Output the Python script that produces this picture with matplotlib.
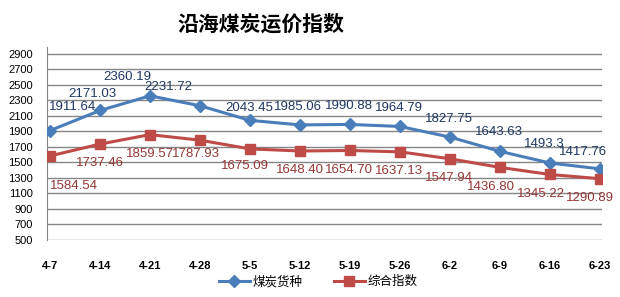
import matplotlib
matplotlib.use("Agg")
import matplotlib.pyplot as plt

plt.rcParams['font.family'] = ['Liberation Sans', 'Noto Sans CJK SC', 'DejaVu Sans']

dates = ["4-7", "4-14", "4-21", "4-28", "5-5", "5-12", "5-19", "5-26", "6-2", "6-9", "6-16", "6-23"]
coal = [1911.64, 2171.03, 2360.19, 2231.72, 2043.45, 1985.06, 1990.88, 1964.79, 1827.75, 1643.63, 1493.3, 1417.76]
composite = [1584.54, 1737.46, 1859.57, 1787.93, 1675.09, 1648.40, 1654.70, 1637.13, 1547.94, 1436.80, 1345.22, 1290.89]
coal_text = ["1911.64", "2171.03", "2360.19", "2231.72", "2043.45", "1985.06", "1990.88", "1964.79", "1827.75", "1643.63", "1493.3", "1417.76"]
comp_text = ["1584.54", "1737.46", "1859.57", "1787.93", "1675.09", "1648.40", "1654.70", "1637.13", "1547.94", "1436.80", "1345.22", "1290.89"]
yticks = list(range(500, 3000, 200))

# label offsets in pixels (label placement)
coal_off = [(23, 24), (-8, 16), (-23, 19), (-32, 19), (-1, 12), (-2, 18), (-1, 18), (-1, 18), (-1, 18), (-1, 19), (-6, 19), (-17, 17)]
comp_off = [(24, -30), (0, -19), (0, -19), (-4, -14), (-5, -17), (0, -19), (-1, -20), (-1, -19), (-1, -19), (-9, -20), (-9, -20), (-10, -19)]

fig = plt.figure(figsize=(6.2, 2.97), dpi=100)
ax = fig.add_axes([47 / 620, 1 - 240 / 297, 555 / 620, 193 / 297])

x = list(range(len(dates)))
ax.plot(x, coal, color='#4A7EBB', lw=2.2, marker='D', ms=6, label='煤炭货种', zorder=3)
ax.plot(x, composite, color='#BE4B48', lw=2.2, marker='s', ms=7, label='综合指数', zorder=3)

for i in x:
    ax.annotate(coal_text[i], (i, coal[i]), xytext=coal_off[i], textcoords='offset pixels',
                ha='center', va='center', fontsize=9.5, color='#1F3864')
    ax.annotate(comp_text[i], (i, composite[i]), xytext=comp_off[i], textcoords='offset pixels',
                ha='center', va='center', fontsize=9.5, color='#953735')

ax.set_xlim(-0.06, 11.04)
ax.set_ylim(500, 2990)
ax.set_yticks(yticks)
ax.set_yticklabels([str(v) for v in yticks], fontsize=8)
ax.set_xticks(x)
ax.set_xticklabels(dates, fontsize=8, fontweight='bold')
ax.tick_params(axis='both', length=0)
ax.tick_params(axis='x', pad=15)
ax.tick_params(axis='y', pad=10)
ax.grid(axis='y', color='#868686', lw=1)
ax.set_axisbelow(True)
for s in ['top', 'right', 'bottom']:
    ax.spines[s].set_visible(False)
ax.spines['left'].set_color('#868686')

fig.text(261 / 620, 1 - 24 / 297, '沿海煤炭运价指数', ha='center', va='center',
         fontsize=15, fontweight='black', family=['Noto Sans CJK SC'])
fig.legend(loc='center', bbox_to_anchor=(318 / 620, 1 - 282 / 297), ncol=2, frameon=False,
           fontsize=9, handlelength=2.5, columnspacing=2.5, handletextpad=0.2)

fig.savefig('out.png', dpi=100)
